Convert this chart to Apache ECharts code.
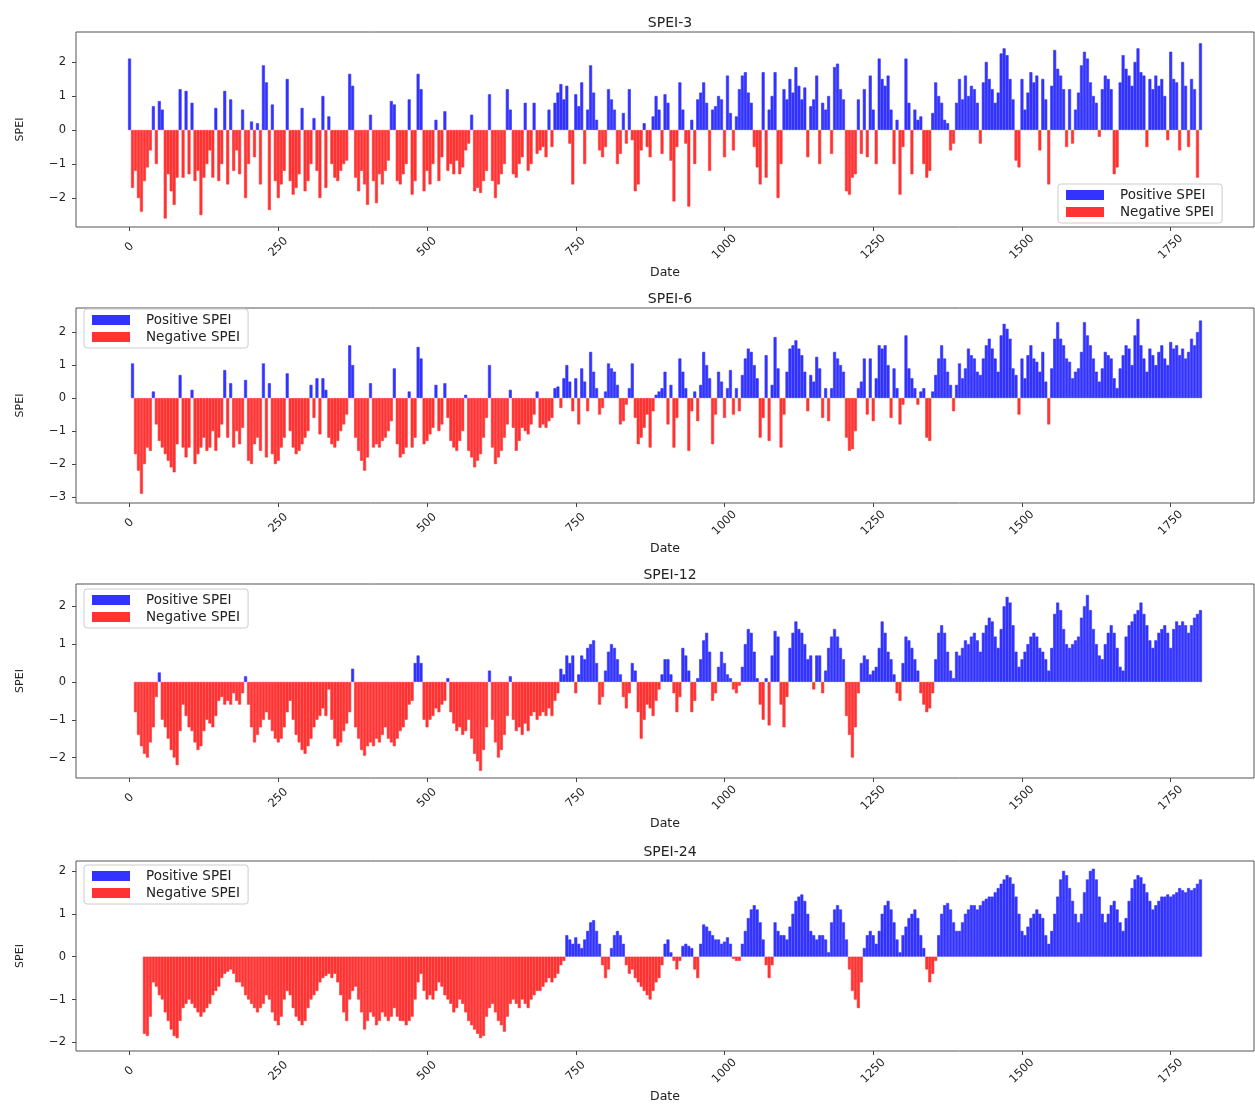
<!DOCTYPE html>
<html>
<head>
<meta charset="utf-8">
<title>SPEI time series</title>
<script src="https://cdn.jsdelivr.net/npm/echarts@6/dist/echarts.min.js"></script>
<style>
  html, body { margin: 0; padding: 0; background: #fff; }
  #chart { width: 1255px; height: 1104px; }
</style>
</head>
<body>
<div id="chart"></div>
<script>
// Monthly SPEI values, one entry every STEP months starting at month 0.
const STEP = 5;
const xTicks = [0, 250, 500, 750, 1000, 1250, 1500, 1750];
const panelTitles = ['SPEI-3', 'SPEI-6', 'SPEI-12', 'SPEI-24'];

const spei3 = [
  2.1, -1.7, -1.2, -2.0, -2.4, -1.5, -1.1, -0.6, 0.7, -1.0,
  0.85, 0.6, -2.6, -1.3, -1.8, -2.2, -1.4, 1.2, -1.4, 1.15,
  -1.3, 0.8, -1.5, -1.2, -2.5, -1.4, -1.0, -0.6, -1.4, 0.65,
  -1.5, -1.0, 1.15, -1.6, 0.9, -1.2, -0.6, -1.3, 0.6, -2.0,
  -1.0, 0.25, -0.8, 0.2, -1.6, 1.9, 1.4, -2.35, 0.75, -1.5,
  -2.0, -1.6, -1.2, 1.5, -1.5, -1.9, -1.7, -1.3, 0.65, -1.8,
  -1.5, -1.0, 0.35, -1.2, -2.0, 1.0, -1.7, 0.4, -1.0, -1.4,
  -1.5, -1.2, -1.0, -0.9, 1.65, 1.3, -1.4, -1.8, -1.2, -1.6,
  -2.2, 0.45, -1.5, -2.15, -1.3, -1.6, -1.2, -0.9, 0.85, 0.75,
  -1.5, -1.6, -1.3, -1.0, 0.9, -1.9, -1.5, 1.65, 1.2, -1.8,
  -1.2, -1.6, -1.0, 0.3, -1.5, -0.8, 0.55, -1.2, -1.0, -1.3,
  -0.9, -1.3, -1.1, -0.6, -0.4, 0.45, -1.8, -1.7, -1.85, -1.5,
  -1.2, 1.05, -1.5, -2.0, -1.6, -1.3, -1.0, 1.2, 0.6, -1.3,
  -1.4, -1.0, -0.8, 0.8, -1.2, -1.0, 0.8, -0.7, -0.6, -0.5,
  -0.8, 0.6, -0.5, 0.8, 1.1, 1.35, 0.9, 1.3, -0.4, -1.6,
  1.05, 0.7, 1.4, -1.0, 0.6, 1.9, 1.1, 0.3, -0.6, -0.8,
  -0.5, 1.2, 0.9, 0.6, -1.0, -0.7, 0.5, -0.4, 1.2, -0.3,
  -1.8, -1.6, -0.6, 0.2, -0.5, -0.8, 0.4, 1.0, 0.6, -0.7,
  1.05, 0.8, -0.9, -2.1, -0.5, 1.4, 0.6, -0.4, -2.25, 0.3,
  -1.0, 0.9, 1.1, 1.4, 0.8, -1.2, 0.6, 0.7, 1.0, 0.9,
  -0.8, 1.6, 0.5, -0.6, 0.4, 1.2, 1.6, 1.7, 1.1, 0.8,
  -0.5, -1.1, -1.6, 1.7, -1.4, 0.6, 1.0, 1.7, -2.0, -1.0,
  1.2, 0.9, 1.5, 1.1, 1.85, 1.3, 0.9, 1.25, -0.8, 0.7,
  0.9, 1.6, -1.0, 0.8, 0.6, 1.0, -0.7, 1.85, 1.95, 1.2,
  0.9, -1.8, -1.9, -1.4, -1.3, 0.9, -0.7, 1.2, -0.8, 1.6,
  0.6, -1.0, 2.1, 1.5, 1.3, 1.6, 0.6, -1.0, 0.3, -1.9,
  -0.5, 2.1, 0.8, -1.3, 0.6, 0.3, 0.4, -1.0, -1.4, -1.2,
  0.5, 1.4, 1.0, 0.8, 0.3, 0.2, -0.6, -0.4, 0.8, 1.5,
  0.9, 1.6, 1.0, 1.3, 1.2, 0.8, -0.4, 1.4, 2.0, 1.5,
  1.2, 0.8, 1.1, 2.25, 2.4, 2.2, 1.5, 0.9, -0.9, -1.1,
  1.5, 0.6, 1.1, 1.7, 1.4, 1.6, -0.6, 1.5, 0.9, -1.6,
  1.3, 2.35, 1.8, 1.6, 1.2, -0.5, 1.2, -0.4, 0.6, 1.1,
  1.9, 2.3, 2.1, 1.4, 1.0, 0.8, -0.2, 1.2, 1.6, 1.5,
  1.2, -1.3, -1.1, 1.4, 2.2, 1.8, 1.6, 1.3, 2.0, 2.4,
  1.7, 1.6, -0.5, 1.5, 1.2, 1.6, 1.3, 1.5, 1.0, -0.3,
  2.3, 1.5, 1.4, -0.6, 2.0, 1.3, -0.5, 1.5, 1.2, -1.4, 2.55
];

const spei6 = [
  null, 1.05, -1.7, -2.2, -2.9, -2.0, -1.5, -1.6, 0.2, -0.8,
  -1.3, -1.5, -1.7, -1.9, -2.1, -2.25, -1.4, 0.7, -1.5, -1.8,
  -1.5, 0.25, -2.0, -1.7, -1.5, -1.2, -1.6, -1.5, -1.0, -1.6,
  -1.2, -0.8, 0.85, -1.2, 0.45, -1.5, -1.0, -1.4, -0.9, 0.55,
  -1.9, -2.0, -1.4, -1.2, -1.6, 1.05, -1.8, 0.45, -1.7, -2.0,
  -1.9, -1.5, -1.2, 0.75, -1.0, -1.5, -1.7, -1.6, -1.4, -1.2,
  -1.0, 0.4, -0.6, 0.6, -1.1, 0.6, 0.25, -1.2, -1.4, -1.5,
  -1.3, -1.0, -0.8, -0.5, 1.6, 1.0, -1.2, -1.6, -1.9, -2.2,
  -1.8, 0.45, -1.5, -1.4, -1.5, -1.3, -1.2, -1.0, -0.7, 0.9,
  -1.4, -1.8, -1.7, -1.5, 0.2, -1.5, -1.2, 1.55, 1.2, -1.4,
  -1.3, -1.1, -0.9, 0.4, -1.0, -0.8, 0.45, -0.6, -1.3, -1.5,
  -1.6, -1.3, -1.0, 0.1, -1.6, -1.8, -2.1, -1.9, -1.7, -1.2,
  -0.6, 1.0, -1.5, -2.0, -1.8, -1.6, -1.2, -0.8, 0.25, -0.9,
  -1.6, -1.3, -0.9, -1.0, -1.1, -0.8, -0.5, 0.2, -0.9, -0.8,
  -0.9, -0.7, -0.6, 0.3, 0.35, -0.3, 0.6, 1.0, 0.5, -0.4,
  0.6, -0.8, 0.9, 0.5, -0.4, 1.4, 0.8, 0.3, -0.5, -0.3,
  0.2, 1.05, 0.9, 0.8, 0.4, -0.8, -0.7, -0.2, 0.3, 1.05,
  -0.6, -1.4, -1.2, -0.9, -0.5, -1.5, -0.4, 0.1, 0.2, 0.3,
  0.8, -0.8, 0.4, -1.5, -0.6, 1.2, 0.8, 0.3, -1.6, -0.4,
  0.2, -0.7, 0.4, 1.4, 1.0, 0.6, -1.4, -0.5, 0.8, 0.5,
  -0.6, 0.3, 0.85, -0.5, 0.3, -0.4, 0.7, 1.2, 1.5, 1.4,
  1.0, 0.6, -1.2, -0.6, 1.3, -1.3, 0.4, 1.85, 0.9, -1.5,
  -0.5, 0.8, 1.5, 1.6, 1.75, 1.5, 1.3, 0.8, -0.4, 0.7,
  0.5, 1.25, 0.9, -0.6, 0.3, -0.7, 0.3, 1.4, 1.2, 1.0,
  0.8, -1.2, -1.6, -1.55, -1.0, 0.3, 0.5, 1.2, -0.5, 1.2,
  -0.7, 0.6, 1.6, 1.5, 1.6, 1.0, -0.6, 0.9, 0.3, -0.8,
  -0.2, 1.9, 0.9, 0.6, 0.3, -0.2, 0.2, 0.3, -1.2, -1.3,
  0.2, 0.7, 1.2, 1.6, 1.2, 0.8, 0.4, -0.4, 0.4, 1.05,
  0.6, 0.9, 1.5, 1.3, 1.2, 0.8, 0.7, 1.2, 1.6, 1.8,
  1.5, 1.2, 0.8, 1.9, 2.25, 2.1, 1.8, 0.9, 0.7, -0.5,
  1.2, 0.6, 1.3, 1.6, 1.2, 1.1, 0.8, 1.4, 0.5, -0.8,
  0.9, 1.8, 2.3, 1.8, 1.6, 1.2, 1.1, 0.6, 0.8, 0.9,
  1.4, 2.3, 1.9, 1.6, 1.2, 0.8, 0.5, 0.9, 1.4, 1.3,
  1.2, 0.6, 0.3, 0.9, 1.3, 1.6, 1.5, 1.0, 1.9, 2.4,
  1.6, 1.2, 0.8, 1.5, 1.3, 1.0, 1.4, 1.6, 1.2, 1.0,
  1.7, 1.5, 1.6, 1.3, 1.5, 1.2, 1.4, 1.8, 1.6, 2.0, 2.35
];

const spei12 = [
  null, null, -0.8, -1.4, -1.7, -1.9, -2.0, -1.6, -1.2, -0.4,
  0.25, -1.0, -1.2, -1.5, -1.8, -2.0, -2.2, -1.3, -0.6, -0.9,
  -1.2, -1.3, -1.6, -1.8, -1.7, -1.3, -1.0, -1.1, -1.2, -0.9,
  -0.5, -0.4, -0.6, -0.5, -0.6, -0.3, -0.5, -0.6, -0.3, 0.15,
  -0.6, -1.2, -1.6, -1.4, -1.2, -1.0, -0.8, -1.0, -1.3, -1.5,
  -1.6, -1.5, -1.2, -0.8, -0.5, -1.0, -1.4, -1.6, -1.8, -1.9,
  -1.7, -1.5, -1.2, -1.0, -0.9, -0.7, -0.9, -0.2, -1.0, -1.5,
  -1.7, -1.6, -1.3, -1.1, -0.8, 0.35, -1.2, -1.5, -1.8, -1.95,
  -1.7, -1.6, -1.7, -1.5, -1.6, -1.4, -1.2, -1.5, -1.6, -1.7,
  -1.5, -1.3, -1.2, -1.0, -0.6, -0.5, 0.5, 0.7, 0.5, -1.0,
  -1.2, -1.0, -0.9, -0.7, -0.8, -0.6, -0.5, 0.1, -0.8, -1.1,
  -1.3, -1.2, -1.4, -1.3, -1.0, -1.5, -1.9, -2.1, -2.35, -1.8,
  -1.2, 0.3, -1.0, -1.6, -2.0, -1.8, -1.4, -0.9, 0.15, -1.0,
  -1.3, -1.2, -1.4, -1.1, -1.3, -0.9, -0.8, -1.0, -0.9, -0.8,
  -0.9, -0.7, -0.9, -0.5, -0.3, 0.35, 0.2, 0.7, 0.5, 0.7,
  -0.3, 0.2, 0.7, 0.6, 0.9, 1.0, 1.1, 0.5, -0.6, -0.4,
  0.3, 0.8, 1.0, 0.9, 0.6, 0.2, -0.4, -0.7, -0.3, 0.5,
  0.3, -0.8, -1.5, -1.0, -0.6, -0.7, -0.9, -0.5, -0.2, 0.2,
  0.6, 0.6, 0.2, -0.3, -0.8, -0.4, 0.9, 0.7, 0.3, -0.8,
  -0.5, 0.1, 0.6, 1.1, 1.3, 0.8, -0.5, -0.3, 0.4, 0.8,
  0.5, 0.2, 0.1, -0.2, -0.3, -0.1, 0.4, 1.0, 1.4, 1.3,
  0.8, 0.1, -0.6, -1.0, 0.1, -1.15, 0.7, 1.35, 1.2, -0.6,
  -1.2, -0.4, 0.9, 1.3, 1.6, 1.4, 1.3, 1.0, 0.6, 0.7,
  -0.2, 0.7, 0.7, -0.3, 0.3, 0.9, 1.2, 1.4, 1.2, 0.9,
  0.6, -0.9, -1.4, -2.0, -1.2, -0.3, 0.5, 0.7, 0.6, 0.2,
  0.3, 0.4, 0.9, 1.6, 1.3, 0.8, 0.6, 0.2, -0.3, -0.5,
  0.5, 1.2, 1.1, 0.9, 0.6, 0.3, -0.3, -0.6, -0.8, -0.7,
  -0.3, 0.6, 1.3, 1.5, 1.3, 0.8, 0.3, 0.1, 0.8, 0.7,
  0.9, 1.1, 1.0, 1.2, 1.3, 1.1, 0.8, 1.3, 1.5, 1.7,
  1.6, 1.2, 0.9, 1.4, 2.0, 2.25, 2.1, 1.5, 0.8, 0.4,
  0.6, 0.8, 1.0, 1.2, 1.3, 1.2, 0.9, 0.8, 0.6, 0.3,
  0.9, 1.8, 2.1, 1.9, 1.4, 1.0, 0.9, 1.0, 1.1, 1.2,
  1.7, 2.0, 2.3, 1.9, 1.4, 1.0, 0.7, 0.6, 1.0, 1.3,
  1.5, 1.3, 0.9, 0.4, 0.3, 1.2, 1.5, 1.6, 1.8, 1.9,
  2.1, 1.8, 1.5, 1.1, 0.9, 1.1, 1.3, 1.4, 1.5, 1.3,
  0.9, 1.4, 1.6, 1.5, 1.6, 1.5, 1.3, 1.5, 1.7, 1.8, 1.9
];

const spei24 = [
  null, null, null, null, null, -1.8, -1.85, -1.4, -0.6, -0.7,
  -0.9, -1.0, -1.3, -1.5, -1.7, -1.85, -1.9, -1.5, -1.2, -1.1,
  -1.0, -1.1, -1.2, -1.3, -1.4, -1.3, -1.2, -1.1, -0.9, -0.8,
  -0.7, -0.5, -0.4, -0.35, -0.3, -0.4, -0.6, -0.6, -0.7, -0.9,
  -1.0, -1.1, -1.2, -1.3, -1.2, -1.1, -0.9, -1.0, -1.3, -1.5,
  -1.6, -1.4, -1.0, -0.8, -0.9, -1.2, -1.4, -1.5, -1.6, -1.5,
  -1.2, -1.0, -0.9, -0.8, -0.6, -0.5, -0.45, -0.4, -0.5, -0.4,
  -0.6, -0.9, -1.3, -1.5, -1.0, -0.8, -0.7, -1.0, -1.3, -1.7,
  -1.5, -1.3, -1.4, -1.6, -1.5, -1.3, -1.4, -1.5, -1.4, -1.2,
  -1.4, -1.5, -1.5, -1.6, -1.5, -1.4, -1.0, -0.6, -0.4, -0.8,
  -1.0, -0.9, -1.0, -0.8, -0.6, -0.7, -0.9, -1.0, -1.1, -1.3,
  -1.2, -1.0, -1.1, -1.3, -1.5, -1.6, -1.7, -1.8, -1.9, -1.85,
  -1.4, -1.2, -1.1, -1.3, -1.5, -1.6, -1.75, -1.4, -1.1, -1.0,
  -1.1, -1.2, -1.0, -1.1, -1.2, -1.0, -0.9, -0.8, -0.8, -0.7,
  -0.6, -0.5, -0.6, -0.5, -0.4, -0.2, -0.1, 0.5, 0.4, 0.3,
  0.45, 0.3, 0.2, 0.4, 0.6, 0.8, 0.85, 0.6, 0.3, -0.2,
  -0.5, -0.3, 0.2, 0.5, 0.6, 0.5, 0.3, -0.2, -0.4, -0.3,
  -0.5, -0.6, -0.7, -0.8, -0.9, -1.0, -0.8, -0.6, -0.5, -0.2,
  0.3, 0.4, 0.1, -0.1, -0.3, -0.1, 0.25, 0.3, 0.25, 0.2,
  -0.3, -0.5, 0.3, 0.75, 0.7, 0.6, 0.5, 0.4, 0.4, 0.3,
  0.35, 0.45, 0.3, -0.05, -0.1, -0.1, 0.3, 0.6, 0.9, 1.1,
  1.2, 1.1, 0.8, 0.4, -0.2, -0.5, -0.2, 0.8, 0.6, 0.5,
  0.5, 0.4, 0.7, 1.0, 1.3, 1.4, 1.45, 1.3, 1.0, 0.6,
  0.5, 0.4, 0.5, 0.5, 0.4, 0.1, 0.8, 1.1, 1.2, 1.1,
  0.8, 0.4, -0.3, -0.8, -1.0, -1.2, -0.6, 0.2, 0.5, 0.6,
  0.5, 0.3, 0.6, 1.0, 1.2, 1.3, 1.1, 0.8, 0.4, 0.1,
  0.5, 0.7, 0.9, 1.0, 1.1, 0.9, 0.5, 0.2, -0.3, -0.6,
  -0.4, -0.1, 0.5, 1.0, 1.2, 1.25, 1.1, 0.8, 0.6, 0.6,
  0.8, 1.0, 1.1, 1.2, 1.2, 1.1, 1.2, 1.3, 1.35, 1.4,
  1.4, 1.5, 1.6, 1.7, 1.8, 1.9, 1.85, 1.7, 1.4, 1.0,
  0.6, 0.5, 0.7, 0.9, 1.0, 1.1, 1.0, 0.9, 0.5, 0.3,
  0.6, 1.0, 1.4, 1.8, 2.0, 1.9, 1.6, 1.3, 1.0, 0.8,
  1.0, 1.5, 1.8, 2.0, 2.05, 1.8, 1.4, 1.0, 0.8, 1.0,
  1.2, 1.3, 1.1, 0.8, 0.6, 0.9, 1.3, 1.6, 1.8, 1.9,
  1.85, 1.7, 1.5, 1.3, 1.1, 1.2, 1.3, 1.4, 1.4, 1.45,
  1.4, 1.45, 1.5, 1.6, 1.55, 1.5, 1.6, 1.55, 1.6, 1.7, 1.8
];

// Visible y range of each panel and its labelled ticks
const yRanges = [[-2.85, 2.88], [-3.18, 2.73], [-2.54, 2.59], [-2.2, 2.23]];
const yTicks = [[-2, -1, 0, 1, 2], [-3, -2, -1, 0, 1, 2], [-2, -1, 0, 1, 2], [-2, -1, 0, 1, 2]];

const seriesValues = [spei3, spei6, spei12, spei24];

const FONT = 'DejaVu Sans';
const POS_COLOR = '#3333ff';
const NEG_COLOR = '#ff3333';

const gridTops = [32, 308, 584, 861];
const gridHeights = [195, 195, 194, 193];
const GRID_LEFT = 76;
const GRID_WIDTH = 1178;

const minusFmt = v => (v < 0 ? '\u2212' + Math.abs(v) : String(v));

const grids = [], xAxes = [], yAxes = [], series = [], titles = [], legends = [];

seriesValues.forEach((vals, g) => {
  grids.push({
    left: GRID_LEFT, top: gridTops[g], width: GRID_WIDTH, height: gridHeights[g],
    show: true, borderColor: '#555', borderWidth: 1, backgroundColor: '#fff'
  });
  xAxes.push({
    type: 'value', gridIndex: g, min: -90, max: 1890,
    name: 'Date', nameLocation: 'middle', nameGap: 39,
    nameTextStyle: { fontFamily: FONT, fontSize: 12.5, color: '#222' },
    axisLine: { show: false, onZero: false },
    splitLine: { show: false },
    axisTick: { show: true, length: 4, customValues: xTicks, lineStyle: { color: '#444' } },
    axisLabel: {
      customValues: xTicks, rotate: 45, align: 'center', verticalAlign: 'middle',
      margin: 20, fontFamily: FONT, fontSize: 11.5, color: '#222',
      formatter: v => String(v)
    }
  });
  yAxes.push({
    type: 'value', gridIndex: g, min: yRanges[g][0], max: yRanges[g][1],
    name: 'SPEI', nameLocation: 'middle', nameGap: 50, nameRotate: 90,
    nameTextStyle: { fontFamily: FONT, fontSize: 11, color: '#222' },
    axisLine: { show: false, onZero: false },
    splitLine: { show: false },
    axisTick: { show: true, length: 4, customValues: yTicks[g], lineStyle: { color: '#444' } },
    axisLabel: {
      customValues: yTicks[g], formatter: minusFmt, margin: 10,
      fontFamily: FONT, fontSize: 11.5, color: '#222'
    }
  });
  const pos = [], neg = [];
  vals.forEach((v, i) => {
    if (v === null) return;
    if (v >= 0) pos.push([i * STEP, v]);
    else neg.push([i * STEP, v]);
  });
  series.push({
    name: 'Positive SPEI', type: 'bar', xAxisIndex: g, yAxisIndex: g,
    data: pos, barWidth: 3,
    itemStyle: { color: POS_COLOR, borderColor: POS_COLOR, borderWidth: 0.6 }, silent: true
  });
  series.push({
    name: 'Negative SPEI', type: 'bar', xAxisIndex: g, yAxisIndex: g,
    data: neg, barWidth: 3, barGap: '-100%',
    itemStyle: { color: NEG_COLOR, borderColor: NEG_COLOR, borderWidth: 0.6 }, silent: true
  });
  titles.push({
    text: panelTitles[g], left: GRID_LEFT + GRID_WIDTH / 2, top: gridTops[g] - 21,
    textAlign: 'center',
    textStyle: { fontFamily: FONT, fontSize: 14, fontWeight: 'normal', color: '#222' }
  });
});

const legendPlaces = [
  { left: 1058, top: 184 },
  { left: 84, top: 309 },
  { left: 84, top: 589 },
  { left: 84, top: 865 }
];
legendPlaces.forEach(p => {
  legends.push({
    left: p.left, top: p.top, orient: 'vertical',
    data: ['Positive SPEI', 'Negative SPEI'],
    icon: 'rect', itemWidth: 36, itemHeight: 8, itemGap: 3,
    padding: [4, 8, 4, 8],
    backgroundColor: 'rgba(255,255,255,0.85)', borderColor: '#ccc', borderWidth: 1, borderRadius: 3,
    textStyle: { fontFamily: FONT, fontSize: 13.5, color: '#222', padding: [0, 20, 0, 12] },
    selectedMode: false
  });
});

const chart = echarts.init(document.getElementById('chart'), null, { renderer: 'canvas' });
chart.setOption({
  backgroundColor: '#fff',
  animation: false,
  title: titles,
  legend: legends,
  grid: grids,
  xAxis: xAxes,
  yAxis: yAxes,
  series: series
});
</script>
</body>
</html>
